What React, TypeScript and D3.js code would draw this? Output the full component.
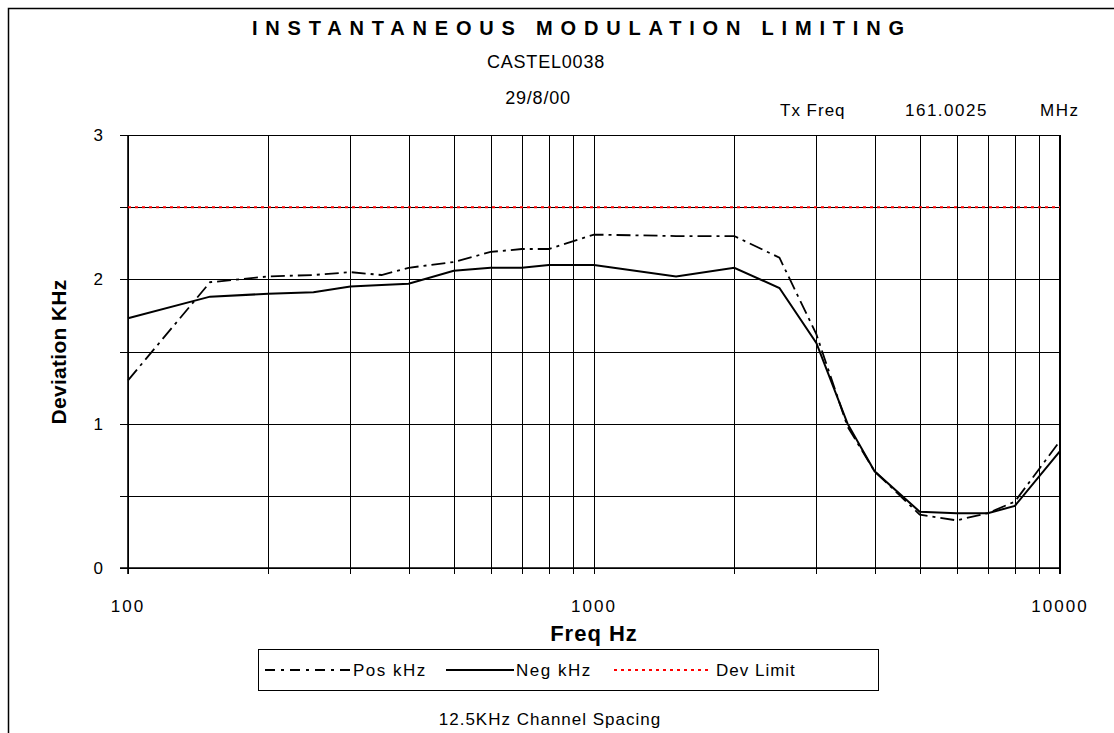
import React from "react";
import * as d3 from "d3";

const freqs = [100, 150, 200, 250, 300, 350, 400, 500, 600, 700, 800, 1000, 1500, 2000, 2500, 3000, 3500, 4000, 5000, 6000, 7000, 8000, 10000];
const posKHz = [1.30, 1.98, 2.02, 2.03, 2.05, 2.03, 2.08, 2.12, 2.19, 2.21, 2.21, 2.31, 2.30, 2.30, 2.15, 1.62, 0.98, 0.67, 0.37, 0.33, 0.38, 0.46, 0.88];
const negKHz = [1.73, 1.88, 1.90, 1.91, 1.95, 1.96, 1.97, 2.06, 2.08, 2.08, 2.10, 2.10, 2.02, 2.08, 1.94, 1.56, 1.00, 0.67, 0.39, 0.38, 0.38, 0.43, 0.81];
const devLimit = [2.5, 2.5, 2.5, 2.5, 2.5, 2.5, 2.5, 2.5, 2.5, 2.5, 2.5, 2.5, 2.5, 2.5, 2.5, 2.5, 2.5, 2.5, 2.5, 2.5, 2.5, 2.5, 2.5];

const xGrid = [100, 200, 300, 400, 500, 600, 700, 800, 900, 1000, 2000, 3000, 4000, 5000, 6000, 7000, 8000, 9000, 10000];
const xLabels = [100, 1000, 10000];
const yGrid = [0, 0.5, 1, 1.5, 2, 2.5, 3];
const yLabels = [0, 1, 2, 3];

const title = "INSTANTANEOUS MODULATION LIMITING";
const subtitle = "CASTEL0038";
const dateText = "29/8/00";
const seriesNames = ["Pos kHz", "Neg kHz", "Dev Limit"];

export default function App() {
  const left = 128, right = 1060, top = 135, bottom = 568;
  const x = d3.scaleLog().domain([100, 10000]).range([left, right]);
  const y = d3.scaleLinear().domain([0, 3]).range([bottom, top]);
  const line = (vals: number[]) =>
    d3.line<number>().x((_, i) => x(freqs[i])).y((v) => y(v))(vals) || "";
  const font = "'Liberation Sans', Arial, sans-serif";

  return (
    <svg width={1114} height={733} style={{ position: "absolute", left: 0, top: 0, background: "#fff" }} fontFamily={font}>
      <rect x={0} y={0} width={1114} height={733} fill="#fff" />
      {/* outer frame */}
      <rect x={8.5} y={8.5} width={1130} height={740} fill="none" stroke="#000" strokeWidth={1.5} />

      {/* titles */}
      <text x={578} y={35} textAnchor="middle" fontWeight="bold" fontSize={20} textLength={652} lengthAdjust="spacing">{title}</text>
      <text x={546} y={68} textAnchor="middle" fontSize={18} letterSpacing={0.8}>{subtitle}</text>
      <text x={538} y={104} textAnchor="middle" fontSize={18} letterSpacing={0.8}>{dateText}</text>
      <text x={780} y={116} fontSize={17} letterSpacing={1}>Tx Freq</text>
      <text x={905} y={116} fontSize={17} letterSpacing={1.5}>161.0025</text>
      <text x={1040} y={116} fontSize={17} letterSpacing={1.5}>MHz</text>

      {/* grid */}
      {yGrid.map((v) => (
        <line key={"h" + v} x1={left - 8} x2={right} y1={Math.round(y(v)) + 0.5} y2={Math.round(y(v)) + 0.5} stroke="#000" strokeWidth={1} />
      ))}
      {xGrid.map((f) => (
        <line key={"v" + f} x1={Math.round(x(f)) + 0.5} x2={Math.round(x(f)) + 0.5} y1={top} y2={bottom + 6} stroke="#000" strokeWidth={1} />
      ))}
      <line x1={left} x2={left} y1={top} y2={bottom + 6} stroke="#000" strokeWidth={1.6} />
      <line x1={left - 8} x2={right} y1={bottom} y2={bottom} stroke="#000" strokeWidth={1.6} />
      <line x1={right} x2={right} y1={top} y2={bottom + 6} stroke="#000" strokeWidth={2} />

      {/* y tick labels */}
      {yLabels.map((v) => (
        <text key={"yl" + v} x={103} y={y(v) + 6} textAnchor="end" fontSize={17}>{v}</text>
      ))}
      {/* x tick labels */}
      {xLabels.map((f) => (
        <text key={"xl" + f} x={x(f)} y={612} textAnchor="middle" fontSize={17} letterSpacing={2}>{f}</text>
      ))}

      {/* axis titles */}
      <text x={594} y={641} textAnchor="middle" fontWeight="bold" fontSize={22} letterSpacing={1}>Freq Hz</text>
      <text transform="translate(66,352) rotate(-90)" textAnchor="middle" fontWeight="bold" fontSize={21} letterSpacing={0.3}>Deviation KHz</text>

      {/* series */}
      <path d={line(devLimit)} fill="none" stroke="#ff0000" strokeWidth={2} strokeDasharray="3,4" />
      <path d={line(negKHz)} fill="none" stroke="#000" strokeWidth={2} />
      <path d={line(posKHz)} fill="none" stroke="#000" strokeWidth={1.8} strokeDasharray="14,5,3,5" />

      {/* legend */}
      <rect x={258.5} y={649.5} width={620} height={41} fill="#fff" stroke="#000" strokeWidth={1} />
      <line x1={265} x2={350} y1={670} y2={670} stroke="#000" strokeWidth={1.8} strokeDasharray="10,6,3,6" />
      <text x={353} y={676} fontSize={17} letterSpacing={1.5}>{seriesNames[0]}</text>
      <line x1={446} x2={514} y1={670} y2={670} stroke="#000" strokeWidth={2} />
      <text x={516} y={676} fontSize={17} letterSpacing={1.5}>{seriesNames[1]}</text>
      <line x1={614} x2={712} y1={670} y2={670} stroke="#ff0000" strokeWidth={2} strokeDasharray="3,4" />
      <text x={716} y={676} fontSize={17} letterSpacing={1}>{seriesNames[2]}</text>

      <text x={550} y={725} textAnchor="middle" fontSize={17} letterSpacing={1}>12.5KHz Channel Spacing</text>
    </svg>
  );
}
